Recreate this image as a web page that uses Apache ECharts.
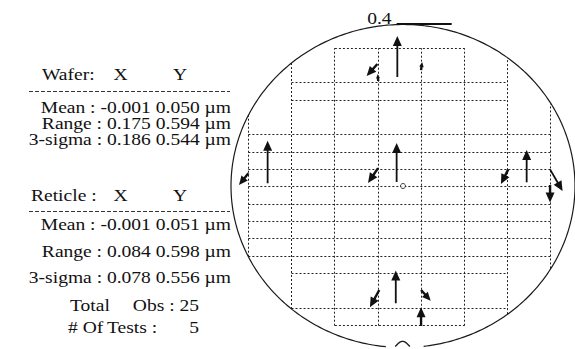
<!DOCTYPE html>
<html>
<head>
<meta charset="utf-8">
<script src="https://cdn.jsdelivr.net/npm/echarts@6/dist/echarts.min.js"></script>
<style>
  html, body { margin: 0; padding: 0; background: #ffffff; }
  #chart { width: 575px; height: 349px; }
</style>
</head>
<body>
<div id="chart"></div>
<script>
// ---- Overlay summary statistics (µm) ----
const statNames = ['Mean', 'Range', '3-sigma'];
const waferX = ['-0.001', '0.175', '0.186'];
const waferY = ['0.050', '0.594', '0.544'];
const reticleX = ['-0.001', '0.084', '0.078'];
const reticleY = ['0.051', '0.598', '0.556'];
const totalObs = 25;
const testCount = 5;

// ---- Wafer layout (mm, wafer centre at 0,0) ----
const waferRadius = 100;
const notchFrom = -10;      // edge gap left end (x, mm)
const notchTo = 12;         // edge gap right end (x, mm)
const dieColEdges = [-89.9, -64.8, -39.6, -14.5, 10.6, 35.8, 60.9, 86.0];
const rowLineY    = [85.3, 63.8, 53.1, 31.6, 20.9, 10.1, -0.6, -11.4, -22.1, -32.8, -43.6, -54.3, -75.8, -86.5];
const rowLineFrom = [2, 1, 1, 0, 0, 0, 0, 0, 0, 0, 0, 1, 1, 2];
const rowLineTo   = [5, 6, 6, 7, 7, 7, 7, 7, 7, 7, 7, 6, 6, 5];

// ---- Overlay error vectors: site (mm) and error (µm) ----
const siteX = [-3.3, -14.9, -14.4, 10.5,   -3.7, -14.5,   -78.7, -89.9,   71.9, 61.2, 85.5, 85.5,   -4.2, -13.8, 10.5, 10.5];
const siteY = [67.5, 75.5, 65.0, 71.8,     2.5, 11.1,     1.7, 7.9,       2.3, 10.3, 10.3, 0.6,     -72.6, -64.4, -64.4, -86.7];
const errX  = [0, -0.078, -0.004, 0.008,   0, -0.073,     0, -0.068,      0, -0.053, 0.091, 0,      0, -0.068, 0.070, 0];
const errY  = [0.318, -0.093, 0.054, 0.062, 0.301, -0.115, 0.329, -0.091, 0.25, -0.114, -0.168, -0.136, 0.253, -0.134, -0.083, 0.145];

const scaleBarValue = 0.4;        // µm
const scaleBarAt = [-3.7, 100.3]; // mm
const vectorScale = 80;           // plotted mm per µm of error

const FONT = '"Liberation Serif", "Times New Roman", serif';
const FONT_PX = 17;
const STRETCH = 1.15;             // slightly wide type
const INK = '#111';

// grid segments built from the layout arrays
const gridSegs = [];
rowLineY.forEach((y, i) => {
  gridSegs.push([dieColEdges[rowLineFrom[i]], y, dieColEdges[rowLineTo[i]], y]);
});
const rowTop = Math.max(...rowLineY), rowBottom = Math.min(...rowLineY);
dieColEdges.forEach(x => {
  const half = Math.sqrt(waferRadius * waferRadius - x * x);
  gridSegs.push([x, Math.max(-half, rowBottom), x, Math.min(half, rowTop)]);
});

const vectors = siteX.map((x, i) => [x, siteY[i], errX[i], errY[i]]);

const snap = v => Math.round(v - 0.5) + 0.5;

function renderGridLine(params, api) {
  const a = api.coord([api.value(0), api.value(1)]);
  const b = api.coord([api.value(2), api.value(3)]);
  const vertical = Math.abs(a[0] - b[0]) < 0.5;
  const shape = vertical
    ? { x1: snap(a[0]), y1: a[1], x2: snap(a[0]), y2: b[1] }
    : { x1: a[0], y1: snap(a[1]), x2: b[0], y2: snap(a[1]) };
  return {
    type: 'line',
    shape: shape,
    style: { stroke: '#222', lineWidth: 1, lineDash: [2, 2] }
  };
}

function renderWaferEdge(params, api) {
  const pts = [];
  const a0 = Math.asin(notchTo / waferRadius) - Math.PI / 2;
  const a1 = 3 * Math.PI / 2 - Math.asin(-notchFrom / waferRadius);
  const steps = 360;
  for (let s = 0; s <= steps; s++) {
    const a = a0 + (a1 - a0) * s / steps;
    pts.push(api.coord([waferRadius * Math.cos(a), waferRadius * Math.sin(a)]));
  }
  const hump = [];
  for (let s = 0; s <= 20; s++) {
    const t = s / 20;
    const x = -4.5 + 8.5 * t;
    const y = -waferRadius + 0.6 + 3.2 * Math.sin(Math.PI * t);
    hump.push(api.coord([x, y]));
  }
  return {
    type: 'group',
    children: [
      { type: 'polyline', shape: { points: pts }, style: { stroke: '#1a1a1a', lineWidth: 1.2, fill: null } },
      { type: 'polyline', shape: { points: hump }, style: { stroke: '#1a1a1a', lineWidth: 1.3, fill: null } }
    ]
  };
}

function renderArrow(params, api) {
  const x = api.value(0), y = api.value(1), u = api.value(2), v = api.value(3);
  const p0 = api.coord([x, y]);
  const p1 = api.coord([x + u * vectorScale, y + v * vectorScale]);
  const dx = p1[0] - p0[0], dy = p1[1] - p0[1];
  const len = Math.hypot(dx, dy) || 1;
  const ux = dx / len, uy = dy / len;
  const headLen = Math.min(10, len * 0.6);
  const headHalf = headLen * 0.45;
  const bx = p1[0] - ux * headLen, by = p1[1] - uy * headLen;
  return {
    type: 'group',
    children: [
      { type: 'line', shape: { x1: p0[0], y1: p0[1], x2: bx + ux, y2: by + uy },
        style: { stroke: INK, lineWidth: len > 25 ? 1.8 : 2.4 } },
      { type: 'polygon',
        shape: { points: [[p1[0], p1[1]], [bx - uy * headHalf, by + ux * headHalf], [bx + uy * headHalf, by - ux * headHalf]] },
        style: { fill: INK } }
    ]
  };
}

function renderScaleBar(params, api) {
  const a = api.coord(scaleBarAt);
  const b = api.coord([scaleBarAt[0] + scaleBarValue * vectorScale, scaleBarAt[1]]);
  return {
    type: 'group',
    children: [
      { type: 'line', shape: { x1: a[0], y1: a[1], x2: b[0], y2: b[1] }, style: { stroke: INK, lineWidth: 1.8 } },
      { type: 'text', x: a[0] - 5, y: a[1] - 5.8, scaleX: STRETCH,
        style: { text: String(scaleBarValue), font: FONT_PX + 'px ' + FONT, fill: INK, align: 'right', verticalAlign: 'middle' } }
    ]
  };
}

// text helpers for the statistics table
const MID = 5.6; // baseline-to-middle offset for the table font
function txt(str, x, baseline, align) {
  return { type: 'text', x: x, y: baseline - MID, scaleX: STRETCH,
    style: { text: str, font: FONT_PX + 'px ' + FONT, fill: INK, align: align || 'left', verticalAlign: 'middle' } };
}
function dashRule(y) {
  return { type: 'line', shape: { x1: 29, y1: y, x2: 230, y2: y },
    style: { stroke: '#333', lineWidth: 1, lineDash: [4, 2] } };
}

const graphics = [];
graphics.push(txt('Wafer:', 42, 80.5));
graphics.push(txt('X', 120.5, 80.5, 'center'));
graphics.push(txt('Y', 180, 80.5, 'center'));
graphics.push(dashRule(91.5));
[113.5, 129.3, 145].forEach((b, i) => {
  graphics.push(txt(statNames[i] + ' : ' + waferX[i] + ' ' + waferY[i] + ' \u00b5m', 231, b, 'right'));
});
graphics.push(txt('Reticle :', 31, 201.5));
graphics.push(txt('X', 120.5, 201.5, 'center'));
graphics.push(txt('Y', 180, 201.5, 'center'));
graphics.push(dashRule(211.5));
[230, 256.7, 283.3].forEach((b, i) => {
  graphics.push(txt(statNames[i] + ' : ' + reticleX[i] + ' ' + reticleY[i] + ' \u00b5m', 231, b, 'right'));
});
graphics.push(txt('Total', 70, 310.7));
graphics.push(txt('Obs : ' + totalObs, 199, 310.7, 'right'));
graphics.push(txt('# Of', 68, 332.7));
graphics.push(txt('Tests :', 107, 332.7));
graphics.push(txt(String(testCount), 199, 332.7, 'right'));

const chart = echarts.init(document.getElementById('chart'), null, { renderer: 'svg' });
chart.setOption({
  animation: false,
  backgroundColor: '#ffffff',
  grid: { left: 231, top: 24.5, width: 344, height: 323, containLabel: false },
  xAxis: { type: 'value', min: -waferRadius, max: waferRadius, show: false },
  yAxis: { type: 'value', min: -waferRadius, max: waferRadius, show: false },
  graphic: graphics,
  series: [
    { type: 'custom', name: 'dies', data: gridSegs, renderItem: renderGridLine, silent: true, z: 1 },
    { type: 'custom', name: 'edge', data: [[0, 0]], renderItem: renderWaferEdge, silent: true, z: 2 },
    { type: 'custom', name: 'scale', data: [[0, 0]], renderItem: renderScaleBar, silent: true, z: 3 },
    { type: 'custom', name: 'vectors', data: vectors, renderItem: renderArrow, silent: true, z: 4 },
    { type: 'scatter', name: 'centre', data: [[0, 0]], symbol: 'circle', symbolSize: 5,
      itemStyle: { color: '#fff', borderColor: INK, borderWidth: 1 }, silent: true, z: 5 }
  ]
});
</script>
</body>
</html>
